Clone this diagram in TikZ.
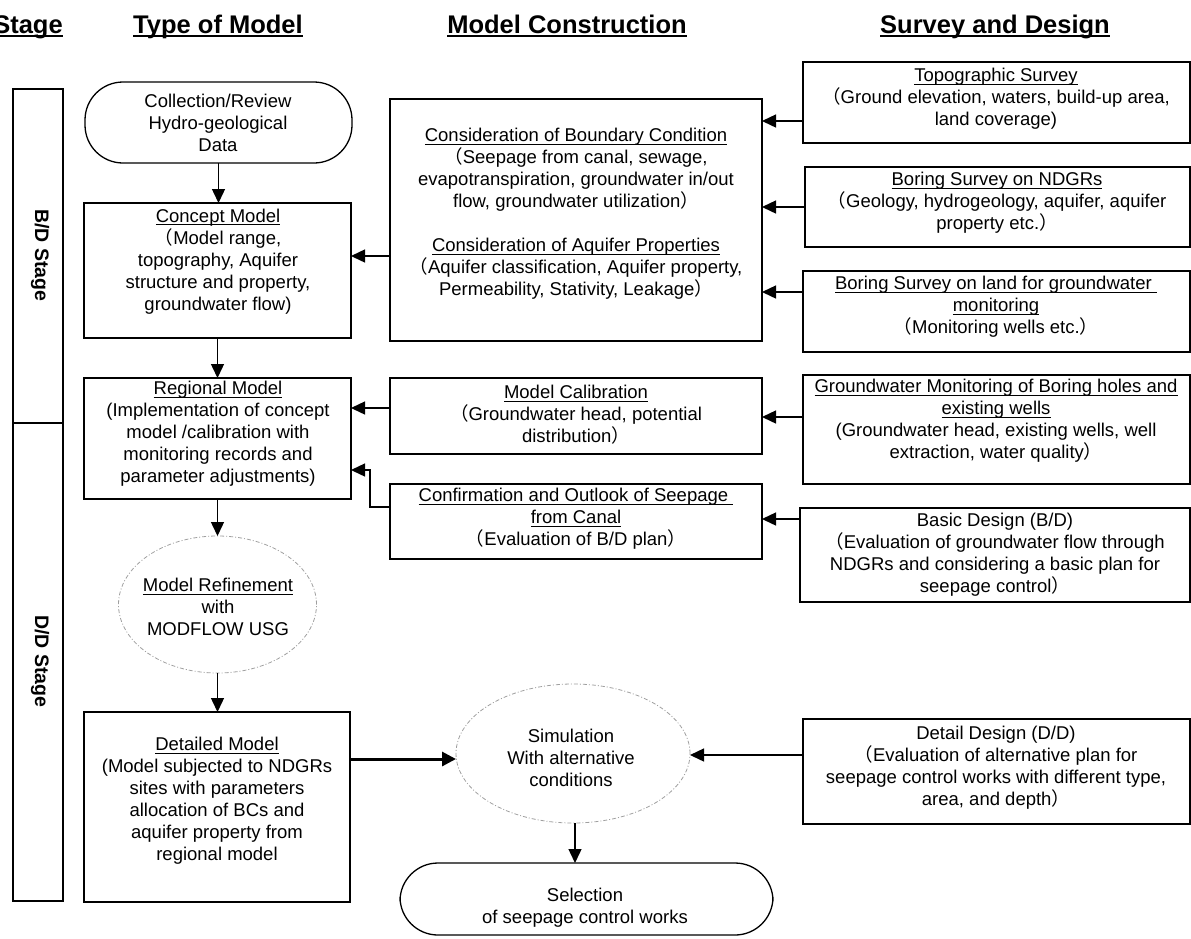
\documentclass[tikz,border=0pt]{standalone}
\usepackage{fontspec}
\setmainfont{Liberation Sans}
\newfontfamily\cjkfont{Noto Sans CJK SC}
\usetikzlibrary{arrows.meta,shapes.geometric}
% full-width parentheses
\newcommand\fwl{{\cjkfont （}}
\newcommand\fwr{{\cjkfont ）}}
% underlines: thin for box titles, heavy for column headings
\newcommand\bodyul[1]{\setbox0\hbox{#1}\rlap{\copy0}\rule[-2.8pt]{\wd0}{0.9pt}}
\newcommand\headul[1]{\setbox0\hbox{#1}\rlap{\copy0}\rule[-4.2pt]{\wd0}{1.9pt}}
\tikzset{
  box/.style={draw, line width=1.6pt, rectangle, inner sep=0pt, outer sep=0pt},
  stadium/.style={draw, line width=1.3pt, rectangle, rounded corners=38pt, inner sep=0pt, outer sep=0pt},
  dashell/.style={draw=gray!75, ellipse, line width=0.8pt, inner sep=0pt, outer sep=0pt,
                  dash pattern=on 4pt off 2pt on 1pt off 2pt},
  txt/.style={align=center, font=\fontsize{18.5}{22}\selectfont, inner sep=0pt},
  head/.style={font=\fontsize{25.5}{30}\selectfont\bfseries, inner sep=0pt, anchor=base},
  stagelab/.style={font=\fontsize{19.5}{23}\selectfont\bfseries, inner sep=0pt, rotate=-90},
  arr/.style={line width=1.4pt, -{Triangle[length=14pt,width=13pt]}},
  thickarr/.style={line width=3pt, -{Triangle[length=14pt,width=14pt]}}
}
\begin{document}
\begin{tikzpicture}[x=1pt,y=-1pt]
\useasboundingbox (0,0) rectangle (1191,938);

% column headings
\node[head] (hstage) at (28,33) {\headul{Stage}};
\node[head] (htype)  at (218,33) {\headul{Type of Model}};
\node[head] (hcons)  at (567,33) {\headul{Model Construction}};
\node[head] (hsurv)  at (995,33) {\headul{Survey and Design}};

% stage bar
\node[box, minimum width=50pt, minimum height=334pt] (bdbar) at (38,256) {};
\node[box, minimum width=50pt, minimum height=478pt] (ddbar) at (38,662) {};
\node[stagelab] (bdlab) at (40,255.5) {B/D Stage};
\node[stagelab] (ddlab) at (40,661.5) {D/D Stage};

% type of model column
\node[stadium, minimum width=267pt, minimum height=81pt] (coll) at (218.5,122.5) {};
\node[txt] (coll-t) at (218,123) {Collection/Review\\Hydro-geological\\Data};

\node[box, minimum width=267pt, minimum height=135pt] (concept) at (217.5,270.5) {};
\node[txt] (concept-t) at (218,261.5) {\bodyul{Concept Model}\\\fwl Model range,\\topography, Aquifer\\structure and property,\\groundwater flow)};

\node[box, minimum width=267pt, minimum height=121pt] (regional) at (217.5,438.5) {};
\node[txt] (regional-t) at (218,434) {\bodyul{Regional Model}\\(Implementation of concept\\model /calibration with\\monitoring records and\\parameter adjustments)};

\node[dashell, minimum width=198pt, minimum height=137pt] (refine) at (217.5,604.5) {};
\node[txt] (refine-t) at (218,607) {\bodyul{Model Refinement}\\with\\MODFLOW USG};

\node[box, minimum width=266pt, minimum height=190pt] (detailed) at (217,807) {};
\node[txt] (detailed-t) at (217,801) {\bodyul{Detailed Model}\\(Model subjected to NDGRs\\sites with parameters\\allocation of BCs and\\aquifer property from\\regional model};

% model construction column
\node[box, minimum width=372pt, minimum height=242pt] (consid) at (576,220) {};
\node[txt] (consid-t) at (576,214) {\bodyul{Consideration of Boundary Condition}\\\fwl Seepage from canal, sewage,\\evapotranspiration, groundwater in/out\\flow, groundwater utilization\fwr\\[22pt]\bodyul{Consideration of Aquifer Properties}\\\fwl Aquifer classification, Aquifer property,\\Permeability, Stativity, Leakage\fwr};

\node[box, minimum width=372pt, minimum height=76pt] (calib) at (576,416) {};
\node[txt] (calib-t) at (576,415) {\bodyul{Model Calibration}\\\fwl Groundwater head, potential\\distribution\fwr};

\node[box, minimum width=372pt, minimum height=75pt] (confirm) at (576,521.5) {};
\node[txt] (confirm-t) at (576,519) {\bodyul{Confirmation and Outlook of Seepage\ }\\\bodyul{from Canal}\\\fwl Evaluation of B/D plan\fwr};

\node[dashell, minimum width=234pt, minimum height=139pt] (sim) at (573,753.5) {};
\node[txt] (sim-t) at (571,758) {Simulation\\With alternative\\conditions};

\node[stadium, minimum width=373pt, minimum height=72pt] (select) at (586.5,899) {};
\node[txt] (select-t) at (585,908) {Selection\\of seepage control works};

% survey and design column
\node[box, minimum width=387pt, minimum height=81pt] (topo) at (996.5,102.5) {};
\node[txt] (topo-t) at (996,99) {\bodyul{Topographic Survey}\\\fwl Ground elevation, waters, build-up area,\\land coverage)};

\node[box, minimum width=385pt, minimum height=80pt] (ndgr) at (997.5,207) {};
\node[txt] (ndgr-t) at (997,203) {\bodyul{Boring Survey on NDGRs}\\\fwl Geology, hydrogeology, aquifer, aquifer\\property etc.\fwr};

\node[box, minimum width=387pt, minimum height=81pt] (land) at (996.5,311.5) {};
\node[txt] (land-t) at (996,307) {\bodyul{Boring Survey on land for groundwater\ }\\\bodyul{monitoring}\\\fwl Monitoring wells etc.\fwr};

\node[box, minimum width=387pt, minimum height=109pt] (gw) at (996.5,429.5) {};
\node[txt] (gw-t) at (996,421) {\bodyul{Groundwater Monitoring of Boring holes and}\\\bodyul{existing wells}\\(Groundwater head, existing wells, well\\extraction, water quality\fwr};

\node[box, minimum width=390pt, minimum height=94pt] (basic) at (995,555) {};
\node[txt] (basic-t) at (995,555) {Basic Design (B/D)\\\fwl Evaluation of groundwater flow through\\NDGRs and considering a basic plan for\\seepage control\fwr};

\node[box, minimum width=387pt, minimum height=105pt] (dd) at (996.5,771.5) {};
\node[txt] (dd-t) at (996,768) {Detail Design (D/D)\\\fwl Evaluation of alternative plan for\\seepage control works with different type,\\area, and depth\fwr};

% connector end points
\coordinate (topo-out)    at ([yshift=-18.5pt]topo.west);
\coordinate (ndgr-out)    at (ndgr.west);
\coordinate (land-out)    at ([yshift=19.5pt]land.west);
\coordinate (consid-out)  at ([yshift=-36pt]consid.west);
\coordinate (calib-out)   at ([yshift=8pt]calib.west);
\coordinate (gw-out)      at ([yshift=12.5pt]gw.west);
\coordinate (basic-out)   at ([yshift=36pt]basic.west);
\coordinate (confirm-out) at ([yshift=14.5pt]confirm.west);
\coordinate (reg-in)      at ([yshift=-31.5pt]regional.east);
\coordinate (elbow)       at (370,470);
\coordinate (dd-out)      at ([yshift=16.5pt]dd.west);
\coordinate (det-out)     at ([yshift=48pt]detailed.east);

% vertical flow
\draw[arr] (coll.south) -- (coll.south |- concept.north);
\draw[arr] (concept.south) -- (concept.south |- regional.north);
\draw[arr] (regional.south) -- (regional.south |- refine.north);
\draw[arr] (refine.south) -- (refine.south |- detailed.north);
\draw[arr] ([xshift=2pt]sim.south) -- ([xshift=2pt]sim.south |- select.north);

% inputs from surveys
\draw[arr] (topo-out) -- (topo-out -| consid.east);
\draw[arr] (ndgr-out) -- (ndgr-out -| consid.east);
\draw[arr] (land-out) -- (land-out -| consid.east);
\draw[arr] (gw-out) -- (gw-out -| calib.east);
\draw[arr] (basic-out) -- (basic-out -| confirm.east);
\draw[arr] (dd-out) -- (dd-out -| sim.east);

% inputs to the models
\draw[arr] (consid-out) -- (consid-out -| concept.east);
\draw[arr] (calib-out) -- (calib-out -| regional.east);
\draw[arr] (confirm-out) -| (elbow) -- (reg-in);
\draw[thickarr] (det-out) -- (det-out -| sim.west);
\end{tikzpicture}
\end{document}
